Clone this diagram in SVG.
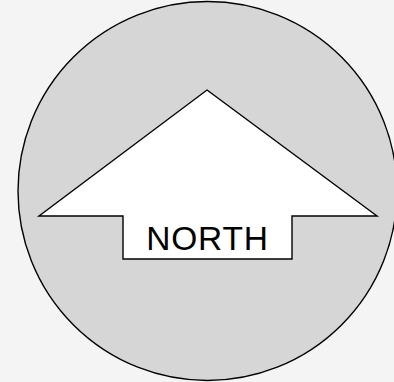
<svg xmlns="http://www.w3.org/2000/svg" width="394" height="382" viewBox="0 0 394 382">
<style>
.bg{fill:#f4f4f4}
.disc{fill:#d6d6d6;stroke:#000;stroke-width:1.4}
.arrow{fill:#fff;stroke:#000;stroke-width:1.4;stroke-linejoin:miter}
.lbl{font-family:"Liberation Sans",Arial,sans-serif;font-size:33.5px;letter-spacing:0.8px;fill:#000;text-anchor:middle}
</style>
<rect class="bg" x="0" y="0" width="394" height="382"/>
<g id="compass">
<circle class="disc" cx="207.5" cy="191" r="189.5"/>
</g>
<g id="north-arrow">
<polygon class="arrow" points="207,90 377,216 292,216 292,259 123,259 123,216 39,216"/>
<text class="lbl" x="207.4" y="250">NORTH</text>
</g>
</svg>
